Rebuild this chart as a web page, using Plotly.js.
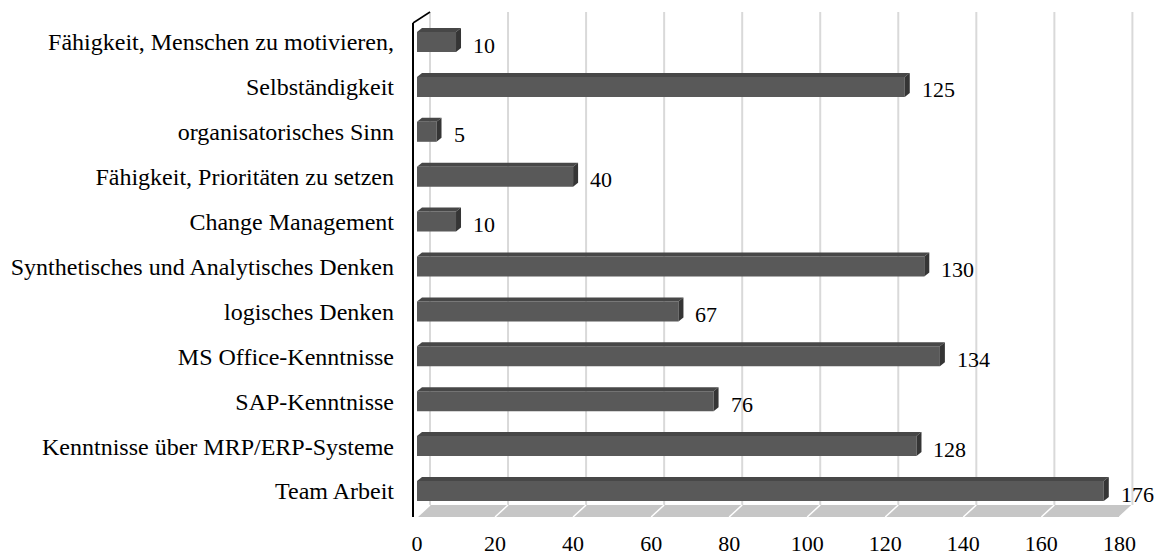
<!DOCTYPE html>
<html>
<head>
<meta charset="utf-8">
<script src="https://cdn.plot.ly/plotly-3.0.1.min.js"></script>
<style>html,body{margin:0;padding:0;background:#fff;}#chart{width:1168px;height:557px;}</style>
</head>
<body>
<div id="chart"></div>
<script>
// Data (bottom to top)
const categories = [
  "Team Arbeit",
  "Kenntnisse über MRP/ERP-Systeme",
  "SAP-Kenntnisse",
  "MS Office-Kenntnisse",
  "logisches Denken",
  "Synthetisches und Analytisches Denken",
  "Change Management",
  "Fähigkeit, Prioritäten zu setzen",
  "organisatorisches Sinn",
  "Selbständigkeit",
  "Fähigkeit, Menschen zu motivieren,"
];
const values = [176, 128, 76, 134, 67, 130, 10, 40, 5, 125, 10];
const xTicks = [0, 20, 40, 60, 80, 100, 120, 140, 160, 180];

const FONT = "Liberation Serif, Times New Roman, serif";
const idx = categories.map((c, i) => i);

const pxPerUnit = 3.9;
const barHalf = 10;      // px
const depthX = 5 / pxPerUnit;  // bar depth in data units
const depthY = 4;        // px
const floorDX = 13 / pxPerUnit;
const floorDY = 12;

const shapes = [];

// back-wall gridlines (offset for 3D look)
xTicks.forEach(v => {
  shapes.push({
    type: 'line', xref: 'x', yref: 'paper',
    x0: v + floorDX, x1: v + floorDX, y0: 12 / 507, y1: 1.0 - 2 / 507,
    line: {color: '#d9d9d9', width: 2}, layer: 'below'
  });
});
// floor
shapes.push({
  type: 'path', xref: 'x', yref: 'paper', ysizemode: 'pixel', yanchor: 0,
  path: `M 0,0 L ${xTicks[xTicks.length-1]},0 L ${xTicks[xTicks.length-1] + floorDX},${floorDY} L ${floorDX},${floorDY} Z`,
  fillcolor: '#c6c6c6', line: {width: 0}, layer: 'below'
});
xTicks.forEach(v => {
  shapes.push({
    type: 'path', xref: 'x', yref: 'paper', ysizemode: 'pixel', yanchor: 0,
    path: `M ${v},0 L ${v + floorDX},${floorDY}`,
    line: {color: '#ffffff', width: 1.5}, layer: 'below'
  });
});

// 3D faces for bars
values.forEach((v, i) => {
  shapes.push({
    type: 'path', xref: 'x', yref: 'y', ysizemode: 'pixel', yanchor: i,
    path: `M 0,${barHalf} L ${v},${barHalf} L ${v + depthX},${barHalf + depthY} L ${depthX},${barHalf + depthY} Z`,
    fillcolor: '#474747', line: {width: 0}
  });
  shapes.push({
    type: 'path', xref: 'x', yref: 'y', ysizemode: 'pixel', yanchor: i,
    path: `M ${v},${barHalf} L ${v + depthX},${barHalf + depthY} L ${v + depthX},${-barHalf + depthY} L ${v},${-barHalf} Z`,
    fillcolor: '#353535', line: {width: 0}
  });
});

// left axis line + top diagonal
shapes.push({
  type: 'line', xref: 'paper', yref: 'paper', xsizemode: 'pixel', xanchor: 0,
  x0: -4, x1: -4, y0: 0, y1: (517 - 23) / 507,
  line: {color: '#000', width: 2}
});
shapes.push({
  type: 'line', xref: 'paper', yref: 'paper', xsizemode: 'pixel', xanchor: 0,
  x0: -4, x1: 13, y0: (517 - 23) / 507, y1: (517 - 12) / 507,
  line: {color: '#000', width: 1.5}
});

const annotations = values.map((v, i) => ({
  x: v, y: i, xref: 'x', yref: 'y', text: String(v),
  xanchor: 'left', yanchor: 'middle', xshift: 15, yshift: -3,
  showarrow: false, font: {family: FONT, size: 22, color: '#000'}
}));

const trace = {
  type: 'bar', orientation: 'h',
  x: values, y: idx, width: 0.445,
  marker: {color: '#595959', line: {width: 0}},
  hoverinfo: 'none'
};

const layout = {
  width: 1168, height: 557,
  margin: {l: 417, r: 33, t: 10, b: 40},
  paper_bgcolor: '#fff', plot_bgcolor: 'rgba(0,0,0,0)',
  showlegend: false,
  font: {family: FONT, size: 22, color: '#000'},
  xaxis: {
    range: [0, 184], tickvals: xTicks, ticktext: xTicks.map(String),
    showgrid: false, zeroline: false, showline: false, ticks: '',
    ticklabelstandoff: 11, tickfont: {family: FONT, size: 22, color: '#000'}
  },
  yaxis: {
    range: [-0.579, 10.713], tickvals: idx, ticktext: categories,
    showgrid: false, zeroline: false, showline: false, ticks: '',
    ticklabelstandoff: 22, tickfont: {family: FONT, size: 24, color: '#000'}
  },
  shapes: shapes,
  annotations: annotations
};

Plotly.newPlot('chart', [trace], layout, {staticPlot: true, displayModeBar: false});
</script>
</body>
</html>
